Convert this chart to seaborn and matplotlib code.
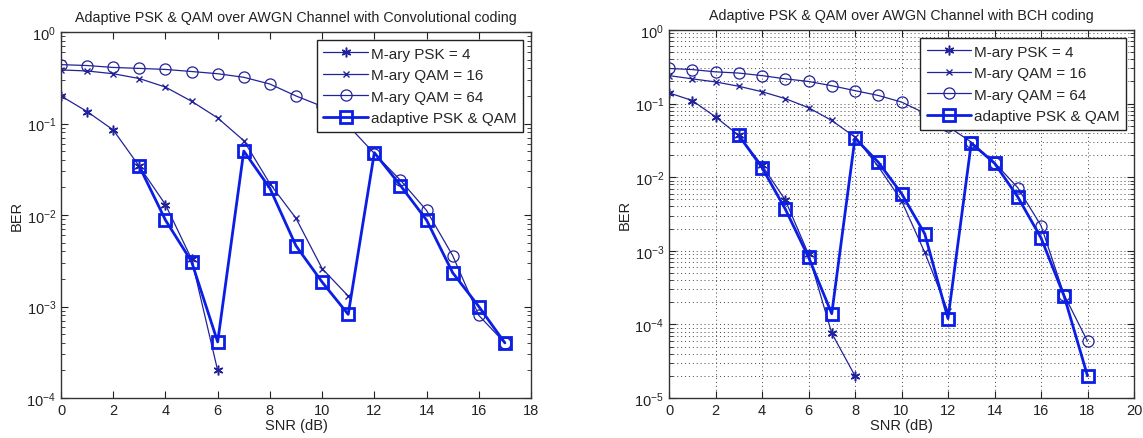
import matplotlib
matplotlib.use("Agg")
import matplotlib.pyplot as plt
import matplotlib.ticker as mticker
import numpy as np
import pandas as pd
import seaborn as sns

# ---- Convolutional coding ----
conv_psk4_snr = [0, 1, 2, 3, 4, 5, 6]
conv_psk4_ber = [0.20, 0.135, 0.085, 0.034, 0.013, 0.0033, 0.0002]

conv_qam16_snr = [0, 1, 2, 3, 4, 5, 6, 7, 8, 9, 10, 11]
conv_qam16_ber = [0.385, 0.375, 0.35, 0.31, 0.25, 0.175, 0.115, 0.065, 0.022, 0.0092, 0.0026, 0.0013]

conv_qam64_snr = [0, 1, 2, 3, 4, 5, 6, 7, 8, 9, 10, 11, 12, 13, 14, 15, 16, 17]
conv_qam64_ber = [0.44, 0.43, 0.41, 0.40, 0.39, 0.37, 0.35, 0.32, 0.27, 0.20, 0.154, 0.095,
                  0.047, 0.024, 0.0112, 0.0036, 0.0008, 0.0004]

conv_adapt_snr = [3, 4, 5, 6, 7, 8, 9, 10, 11, 12, 13, 14, 15, 16, 17]
conv_adapt_ber = [0.034, 0.0088, 0.0031, 0.00041, 0.050, 0.0196, 0.0046, 0.00185, 0.00082,
                  0.048, 0.021, 0.0088, 0.00234, 0.001, 0.0004]

# ---- BCH coding ----
bch_psk4_snr = [0, 1, 2, 3, 4, 5, 6, 7, 8]
bch_psk4_ber = [0.14, 0.11, 0.066, 0.037, 0.0145, 0.0049, 0.0009, 7.6e-5, 2e-5]

bch_qam16_snr = [0, 1, 2, 3, 4, 5, 6, 7, 8, 9, 10, 11, 12]
bch_qam16_ber = [0.24, 0.217, 0.197, 0.172, 0.145, 0.117, 0.088, 0.059, 0.035, 0.014,
                 0.0048, 0.00095, 0.00015]

bch_qam64_snr = [0, 1, 2, 3, 4, 5, 6, 7, 8, 9, 10, 11, 12, 13, 14, 15, 16, 17, 18]
bch_qam64_ber = [0.30, 0.29, 0.27, 0.26, 0.24, 0.217, 0.20, 0.175, 0.15, 0.129, 0.105, 0.074,
                 0.049, 0.030, 0.0158, 0.0072, 0.0022, 0.00025, 5.9e-5]

bch_adapt_snr = [3, 4, 5, 6, 7, 8, 9, 10, 11, 12, 13, 14, 15, 16, 17, 18]
bch_adapt_ber = [0.037, 0.0135, 0.0037, 0.00082, 0.00014, 0.034, 0.016, 0.006, 0.0017,
                 0.00012, 0.029, 0.0155, 0.0054, 0.0015, 0.00024, 2e-5]

labels = ["M-ary PSK = 4", "M-ary QAM = 16", "M-ary QAM = 64", "adaptive PSK & QAM"]

sns.set_style("ticks")
plt.rcParams["font.family"] = ["Liberation Sans", "DejaVu Sans"]
plt.rcParams["mathtext.fontset"] = "custom"
plt.rcParams["mathtext.rm"] = "Liberation Sans"
plt.rcParams["mathtext.it"] = "Liberation Sans"

thin = "#22229a"
bold = "#0a1ee6"
asterisk = (6, 2, 0)

styles = [
    dict(color=thin, linewidth=0.9, marker=asterisk, markersize=7,
         markeredgecolor=thin, markerfacecolor=thin, markeredgewidth=1.1),
    dict(color=thin, linewidth=0.9, marker="x", markersize=4.5,
         markeredgecolor=thin, markeredgewidth=1.0),
    dict(color=thin, linewidth=0.9, marker="o", markersize=8, markerfacecolor="none",
         markeredgecolor=thin, markeredgewidth=0.9),
    dict(color=bold, linewidth=2.0, marker="s", markersize=8, markerfacecolor="none",
         markeredgecolor=bold, markeredgewidth=2.0),
]

fig = plt.figure(figsize=(11.43, 4.39), dpi=100)
ax1 = fig.add_axes([61 / 1143, 40 / 439, 470 / 1143, 366 / 439])
ax2 = fig.add_axes([669 / 1143, 40 / 439, 465 / 1143, 368 / 439])


def draw(ax, series, title, xmax, ymin, grid):
    for (snr, ber), lab, st in zip(series, labels, styles):
        df = pd.DataFrame({"SNR": snr, "BER": ber})
        sns.lineplot(data=df, x="SNR", y="BER", ax=ax, label=lab, sort=False,
                     estimator=None, **st)
    ax.set_yscale("log")
    ax.set_xlim(0, xmax)
    ax.set_ylim(ymin, 1)
    ax.xaxis.set_major_locator(mticker.MultipleLocator(2))
    ax.yaxis.set_major_locator(mticker.LogLocator(base=10, numticks=10))
    ax.yaxis.set_minor_locator(mticker.LogLocator(base=10, subs=np.arange(2, 10), numticks=20))
    ax.yaxis.set_minor_formatter(mticker.NullFormatter())
    ax.tick_params(which="both", direction="in", top=True, right=True,
                   labelsize=10.5, colors="#222222", labelcolor="#222222")
    ax.tick_params(which="major", length=5, width=0.8)
    ax.tick_params(which="minor", length=3, width=0.6)
    for sp in ax.spines.values():
        sp.set_linewidth(1.0)
        sp.set_color("#333333")
    ax.set_xlabel("SNR (dB)", fontsize=10.5, labelpad=1, color="#222222")
    ax.set_ylabel("BER", fontsize=10.5, labelpad=2, color="#222222")
    ax.set_title(title, fontsize=10.3, pad=8, color="#222222")
    if grid:
        ax.grid(True, which="major", axis="x", linestyle=(0, (1, 3)), color="#444444", linewidth=0.7)
        ax.grid(True, which="both", axis="y", linestyle=(0, (1, 3)), color="#444444", linewidth=0.7)
    leg = ax.legend(loc="upper right", fontsize=11, frameon=True, fancybox=False,
                    borderaxespad=0.5, handlelength=2.9, labelspacing=0.5,
                    borderpad=0.45, handletextpad=0.2)
    leg.get_frame().set_edgecolor("#222222")
    leg.get_frame().set_linewidth(1.0)
    leg.get_frame().set_alpha(1)


draw(ax1,
     [(conv_psk4_snr, conv_psk4_ber), (conv_qam16_snr, conv_qam16_ber),
      (conv_qam64_snr, conv_qam64_ber), (conv_adapt_snr, conv_adapt_ber)],
     "Adaptive PSK & QAM over AWGN Channel with Convolutional coding", 18, 1e-4, False)
draw(ax2,
     [(bch_psk4_snr, bch_psk4_ber), (bch_qam16_snr, bch_qam16_ber),
      (bch_qam64_snr, bch_qam64_ber), (bch_adapt_snr, bch_adapt_ber)],
     "Adaptive PSK & QAM over AWGN Channel with BCH coding", 20, 1e-5, True)

fig.savefig("out.png", dpi=100)
